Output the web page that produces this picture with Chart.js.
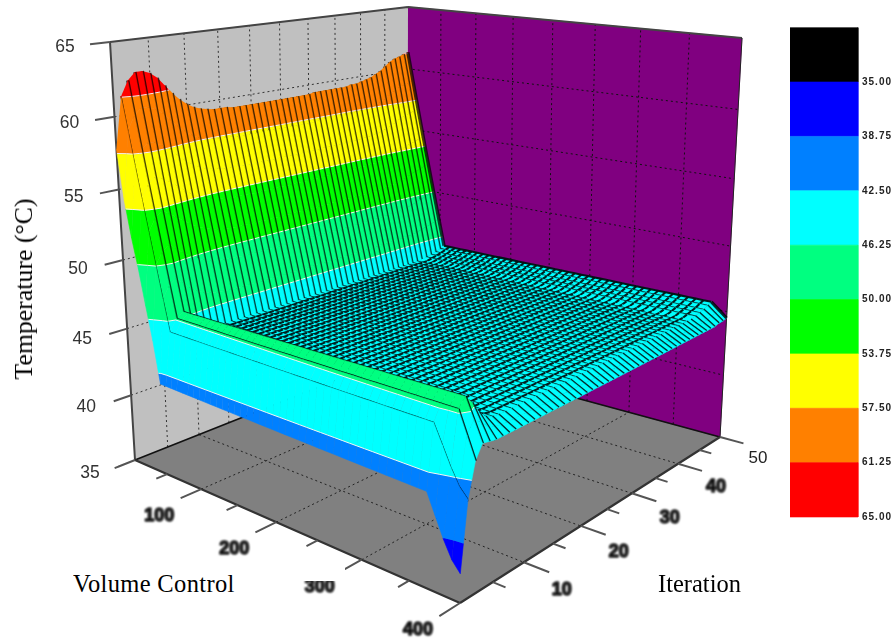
<!DOCTYPE html>
<html><head><meta charset="utf-8">
<style>
html,body{margin:0;padding:0;background:#fff;width:896px;height:640px;overflow:hidden}
#wrap{position:relative;width:896px;height:640px}
#c{position:absolute;left:0;top:0;filter:blur(.5px)}
.t{position:absolute;font-family:"Liberation Serif",serif;font-size:24.5px;line-height:28px;color:#000;white-space:nowrap;overflow:hidden;background:#fff}
</style>
<script src="https://cdn.jsdelivr.net/npm/chart.js@4"></script>
</head><body>
<div id="wrap"><canvas id="c" width="896" height="640"></canvas>
<div class="t" style="left:250px;top:566px;width:95px;height:15px"></div>
<div class="t" style="left:73px;top:570px;height:23px;padding-right:3px;letter-spacing:.35px">Volume Control</div>
<div class="t" style="left:658px;top:570px;background:none">Iteration</div>
<div class="t" style="left:24px;top:289px;background:none;font-size:25.8px;transform:translate(-50%,-50%) rotate(-90deg)">Temperature (°C)</div>
</div>
<script>
// ---- data ----
const volumes = [0,8,16,24,32,40,48,56,64,72,80,88,96,104,112,120,128,136,144,152,160,168,176,184,192,200,208,216,224,232,240,248,256,264,272,280,288,296,304,312,320,328,336,344,352,360,368,376,384,392,400];
const iterations = [0,1,2,3,4,5,6,7,8,9,10,11,12,13,14,15,16,17,18,19,20,21,22,23,24,25,26,27,28,29,30,31,32,33,34,35,36,37,38,39,40,41,42,43,44,45,46,47,48,49,50];
// temperature along the back wall (volume 0), per iteration
const ridgeTemp = [57.8,61.3,62.3,62.8,62.8,62.6,62.2,61.6,61.0,60.5,60.1,59.8,59.6,59.5,59.4,59.4,59.4,59.3,59.3,59.3,59.3,59.3,59.3,59.3,59.3,59.3,59.3,59.3,59.3,59.3,59.3,59.4,59.4,59.4,59.4,59.4,59.4,59.4,59.5,59.5,59.6,59.7,59.8,60.0,60.2,60.5,60.8,61.0,61.1,61.25,61.35];
// temperature of the flat part, per iteration
const plateauTemp = [41.8,45.5,46.3,46.6,46.0,45.5,45.2,45.0,44.9,44.9,44.9,44.9,44.9,44.9,44.9,44.9,44.9,44.9,44.9,44.9,44.9,44.9,44.9,44.9,44.9,44.9,44.9,44.9,44.9,44.9,44.9,44.9,44.9,44.9,44.9,44.9,44.9,44.9,44.9,44.9,44.9,44.9,44.9,44.9,44.9,44.9,45.0,45.1,45.2,45.35,45.5];
// change of the flat part's temperature from volume 0 to volume 400, for the front rows
const plateauTilt = [-0.5,0,0.2,0.5,0.5,0.2];
// temperature at volume 400, per iteration
const edgeTemp = [36.9,41.4,43.6,44.5,44.4,44.3,44.3,44.3,44.3,44.3,44.3,44.3,44.3,44.3,44.3,44.3,44.3,44.3,44.3,44.3,44.3,44.3,44.3,44.3,44.3,44.3,44.3,44.3,44.3,44.3,44.3,44.3,44.3,44.3,44.3,44.3,44.3,44.3,44.3,44.3,44.3,44.3,44.3,44.3,44.3,44.3,44.3,44.3,44.4,44.4,44.5];
// share of the ridge-to-flat drop left at each of the first volumes
const wallShare = [1,0.857,0.714,0.571,0.429,0.286,0.143,0];
const wallShareFirstRow = [1,0.78,0.625,0.494,0.338,0.188,0,0];
// share of the flat-to-edge drop reached at the last volumes (368..400)
const edgeShare = [0,0,0,0.5,1];
const edgeShareFrontRows = [0,0.3,0.6,0.85,1];
const levels = [31.25,35,38.75,42.5,46.25,50,53.75,57.5,61.25,65];
const bandColors = ['#000000','#0000ff','#0080ff','#00ffff','#00ff80','#00ff00','#ffff00','#ff8000','#ff0000'];
const legendLabels = ['35.00','38.75','42.50','46.25','50.00','53.75','57.50','61.25','65.00'];
const tempTicks = [35,40,45,50,55,60,65];
const volumeTicks = [100,200,300,400];
const iterationTicks = [10,20,30,40,50];
const volMax = 400, iterMax = 50, tMin = 35, tMax = 65;

// ---- camera: where the box corners sit on the page ----
const floorQuad=[[135,460],[460,603],[720,437],[407,352]];
const topQuad=[[110,42],[465,103],[742,38],[408,7]];
const perspT=-0.083;
function homography(Q){
  const [A,B,C,D]=Q;
  const dx1=B[0]-C[0],dx2=D[0]-C[0],sx=A[0]-B[0]+C[0]-D[0];
  const dy1=B[1]-C[1],dy2=D[1]-C[1],sy=A[1]-B[1]+C[1]-D[1];
  const den=dx1*dy2-dx2*dy1,g=(sx*dy2-sy*dx2)/den,h=(dx1*sy-dy1*sx)/den;
  return (u,v)=>{const w=1+g*u+h*v;
    return [0,1].map(k=>(A[k]+(B[k]*(1+g)-A[k])*u+(D[k]*(1+h)-A[k])*v)/w);};
}
const floorMap=homography(floorQuad),topMap=homography(topQuad);
function P(vol,iter,T){
  const u=vol/volMax,v=iter/iterMax,t=(T-tMin)/(tMax-tMin),s=t*(1+perspT)/(1+perspT*t);
  const F=floorMap(u,v),G=topMap(u,v);
  return {x:F[0]+(G[0]-F[0])*s,y:F[1]+(G[1]-F[1])*s};
}
function temp(i,j){
  const pl=plateauTemp[i]+(plateauTilt[i]||0)*volumes[j]/volMax;
  if(j<wallShare.length){const s=(i===0?wallShareFirstRow:wallShare)[j];return pl+s*(ridgeTemp[i]-pl);}
  const e=j-(volumes.length-edgeShare.length);
  if(e>=0)return pl+(i<2?edgeShareFrontRows:edgeShare)[e]*(edgeTemp[i]-pl);
  return pl;
}
// ---- dataset helpers ----
const ds=[];
const GAP={x:null,y:null};
function addFill(pts,color,axis){ds.push({data:pts,borderColor:color,backgroundColor:color,borderWidth:0.6,fill:'shape',pointRadius:0,tension:0,spanGaps:false,yAxisID:axis||'y'});}
function addLine(pts,color,width,dash){ds.push({data:pts,borderColor:color,borderWidth:width,borderDash:dash||[],fill:false,pointRadius:0,tension:0,spanGaps:false,yAxisID:'y'});}
const seg=(a,b)=>[a,b,GAP];
const flat=arr=>arr.reduce((o,a)=>o.concat(a),[]);

// ---- walls and floor ----
addFill([P(0,0,35),P(volMax,0,35),P(volMax,iterMax,35),P(0,iterMax,35)],'#808080');
addFill([P(0,0,35),P(0,iterMax,35),P(0,iterMax,65),P(0,0,65)],'#c0c0c0');
addFill([P(0,iterMax,35),P(volMax,iterMax,35),P(volMax,iterMax,65),P(0,iterMax,65)],'#800080');
const gridDash=[2,3];
let g=[];
for(let it=5;it<iterMax;it+=5)g.push(seg(P(0,it,35),P(0,it,65)));
for(const T of tempTicks.slice(1,-1))g.push(seg(P(0,0,T),P(0,iterMax,T)));
addLine(flat(g),'#333333',1,gridDash);
g=[];
for(let v=50;v<volMax;v+=50)g.push(seg(P(v,iterMax,35),P(v,iterMax,65)));
for(const T of tempTicks.slice(1,-1))g.push(seg(P(0,iterMax,T),P(volMax,iterMax,T)));
addLine(flat(g),'#111111',1,gridDash);
g=[];
for(let v=100;v<volMax;v+=100)g.push(seg(P(v,0,35),P(v,iterMax,35)));
for(let it=10;it<iterMax;it+=10)g.push(seg(P(0,it,35),P(volMax,it,35)));
addLine(flat(g),'#222222',1,gridDash);
// box edges
addLine(flat([seg(P(0,0,35),P(0,0,65)),seg(P(0,0,65),P(0,iterMax,65)),seg(P(0,iterMax,65),P(volMax,iterMax,65))]),'#444444',2);
addLine(flat([seg(P(0,0,35),P(0,iterMax,35)),seg(P(0,iterMax,35),P(volMax,iterMax,35))]),'#111111',1.8);
addLine(seg(P(volMax,iterMax,35),P(volMax,iterMax,65)),'#222222',1);
addLine(flat([seg(P(0,0,35),P(volMax,0,35)),seg(P(volMax,0,35),P(volMax,iterMax,35))]),'#333333',2.2);
// tick marks
g=[];
for(let v=0;v<=volMax;v+=50)g.push(seg(P(v,0,35),P(v,v%100?-1.6:-3,35)));
for(let it=5;it<=iterMax;it+=5)g.push(seg(P(volMax,it,35),P(volMax+(it%10?12:24),it,35)));
for(const T of tempTicks)g.push(seg(P(0,0,T),P(0,-2.5,T)));
addLine(flat(g),'#555555',2);

// ---- the surface, back to front ----
function clip(poly,lo,hi){
  const cut=(pts,lim,keep)=>{const o=[];for(let k=0;k<pts.length;k++){const a=pts[k],b=pts[(k+1)%pts.length],ia=keep(a.T),ib=keep(b.T);
    if(ia)o.push(a);
    if(ia!==ib){const r=(lim-a.T)/(b.T-a.T);o.push({v:a.v+(b.v-a.v)*r,i:a.i+(b.i-a.i)*r,T:lim});}}return o;};
  let o=cut(poly,lo,T=>T>=lo);
  if(o.length)o=cut(o,hi,T=>T<=hi);
  return o;
}
const nV=volumes.length,nI=iterations.length,wallEnd=wallShare.length-1,edgeStart=nV-3;
for(let i=nI-2;i>=0;i--){
  const byBand=bandColors.map(()=>[]),contour=[];
  for(let j=0;j<nV-1;j++){
    const q=[[i,j],[i,j+1],[i+1,j+1],[i+1,j]].map(([a,b])=>({v:volumes[b],i:iterations[a],T:temp(a,b)}));
    for(let b=0;b<bandColors.length;b++){
      const c=clip(q,levels[b],levels[b+1]);
      if(c.length>2){c.forEach(p=>byBand[b].push(P(p.v,p.i,p.T)));byBand[b].push(GAP);}
    }
    for(let b=3;b<levels.length-1;b++){
      const L=levels[b],hits=[];
      for(let k=0;k<4;k++){const a=q[k],e=q[(k+1)%4];
        if((a.T<L)!==(e.T<L)){const r=(L-a.T)/(e.T-a.T);hits.push(P(a.v+(e.v-a.v)*r,a.i+(e.i-a.i)*r,L));}}
      if(hits.length>=2)contour.push(hits[0],hits[1],GAP);
    }
  }
  byBand.forEach((pts,b)=>{if(pts.length)addFill(pts,bandColors[b]);});
  if(contour.length)addLine(contour,'#f4f4f4',1);
  const rows=i===nI-2?[i+1,i]:[i];
  for(const r of rows){
    if(r===0)continue;
    const wall=[],mid=[],edge=[];
    for(let j=0;j<nV;j++){const p=P(volumes[j],iterations[r],temp(r,j));
      if(j<=wallEnd)wall.push(p);
      if(j>=wallEnd&&j<=edgeStart)mid.push(p);
      if(j>=edgeStart)edge.push(p);}
    const bright=r===45;
    addLine(wall,r<2?'rgba(0,0,0,.9)':'rgba(0,0,0,.72)',r<2?1.4:3.4);
    addLine(mid,bright?'#00ffff':'rgba(0,15,15,.95)',bright?2.2:(r<2?1.3:2.1));
    addLine(edge,'rgba(0,0,0,.82)',r<2?1.4:3.2);
  }
  if(i>=3){
    const cross=[];
    for(let j=wallEnd+1;j<edgeStart;j++)cross.push(P(volumes[j],iterations[i],temp(i,j)),P(volumes[j],iterations[i+1],temp(i+1,j)),GAP);
    addLine(cross,'rgba(0,20,20,.95)',2.1);
  }
}

// ---- colour scale ----
const barLeft=790,barRight=858;
bandColors.forEach((c,b)=>{addFill([{x:barLeft,y:levels[b]},{x:barRight,y:levels[b]},{x:barRight,y:levels[b+1]},{x:barLeft,y:levels[b+1]}],c,'yBar');});

// ---- tick text ----
const labelPlugin={id:'labels',afterDraw(ch){
  const ctx=ch.ctx,X=ch.scales.x,Y=ch.scales.y,B=ch.scales.yBar;
  const txt=(s,x,y,font,col,blur,al,sp,st)=>{ctx.save();ctx.font=font;ctx.fillStyle=col;ctx.strokeStyle=col;ctx.lineWidth=st||0;ctx.textAlign=al||'center';ctx.textBaseline='middle';ctx.filter=blur?`blur(${blur}px)`:'none';if(sp)ctx.letterSpacing=sp;if(st)ctx.strokeText(s,x,y);ctx.fillText(s,x,y);ctx.restore();};
  tempTicks.forEach(T=>{const p=P(0,0,T);txt(String(T),X.getPixelForValue(p.x)-45,Y.getPixelForValue(p.y)+5+(65-T)*0.27,'17.5px "Liberation Sans"','#333',0.3);});
  volumeTicks.forEach(v=>{const p=P(v,0,35);txt(String(v),X.getPixelForValue(p.x)-42,Y.getPixelForValue(p.y)+27,'bold 18px "Liberation Sans"','#000',0.8,'center',null,1);});
  iterationTicks.forEach(it=>{const p=P(volMax,it,35),f=it===50;txt(String(it),X.getPixelForValue(p.x)+38,Y.getPixelForValue(p.y)+21+(iterMax-it)*0.18,f?'17px "Liberation Sans"':'bold 18px "Liberation Sans"',f?'#222':'#000',f?0.3:0.8,'center',null,f?0:1);});
  legendLabels.forEach((s,k)=>{txt(s,barRight+4,B.getPixelForValue(levels[k+1]),'bold 10px "Liberation Sans"','#222',0.7,'left','1px');});
}};

ds.reverse();
const barTop=82,barPx=(517-82)/30; // page row of 35.00 and pixels per degree of the colour bar
new Chart(document.getElementById('c'),{
  type:'line',
  data:{datasets:ds},
  plugins:[labelPlugin],
  options:{responsive:false,animation:false,events:[],
    layout:{padding:0},
    plugins:{legend:{display:false},tooltip:{enabled:false},title:{display:false}},
    elements:{line:{capBezierPoints:false,borderJoinStyle:'round'}},
    scales:{
      x:{type:'linear',min:0,max:896,display:false},
      y:{type:'linear',min:0,max:640,reverse:true,display:false},
      yBar:{type:'linear',min:35-barTop/barPx,max:35+(640-barTop)/barPx,reverse:true,display:false}
    }}
});
</script>
</body></html>
